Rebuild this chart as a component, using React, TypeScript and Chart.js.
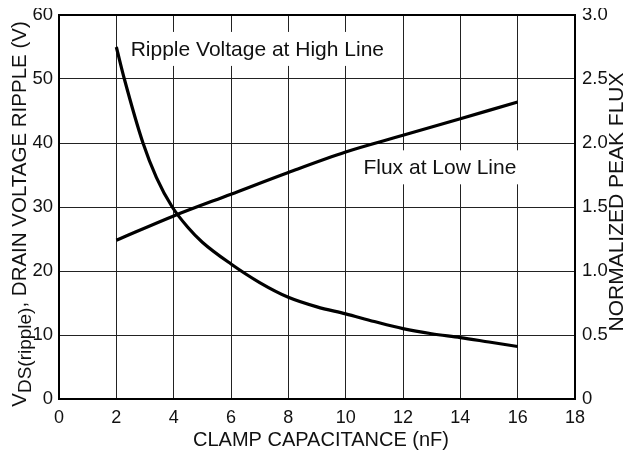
import React, { useEffect, useRef } from "react";
import { Chart, registerables } from "chart.js";

Chart.register(...registerables);

// ---- data ----
const xTickValues = [0, 2, 4, 6, 8, 10, 12, 14, 16, 18];
const leftTickValues = [0, 10, 20, 30, 40, 50, 60];
const rightTickValues = [0, 0.5, 1.0, 1.5, 2.0, 2.5, 3.0];

const rippleX = [2, 2.28, 2.93, 3.4, 3.95, 4.5, 5, 6, 7, 8, 9, 10, 11, 12, 13, 14, 15, 16];
const rippleV = [55, 50, 40, 34.6, 30, 26.8, 24.5, 21.1, 18.2, 15.9, 14.4, 13.3, 12.1, 11.0, 10.2, 9.6, 8.9, 8.2];

const fluxX = [2, 4, 6, 8, 10, 12, 14, 16];
const fluxV = [1.24, 1.43, 1.6, 1.77, 1.93, 2.06, 2.19, 2.32];

const xTitle = "CLAMP CAPACITANCE (nF)";
const leftTitleMain = "V";
const leftTitleSub = "DS(ripple)";
const leftTitleRest = ", DRAIN VOLTAGE RIPPLE (V)";
const rightTitle = "NORMALIZED PEAK FLUX";
const rippleLabel = "Ripple Voltage at High Line";
const fluxLabel = "Flux at Low Line";

const FONT = "'Liberation Sans', Arial, Helvetica, sans-serif";

const decorPlugin = {
  id: "decor",
  beforeDatasetsDraw(chart: any) {
    const { ctx, scales } = chart;
    const x = scales.x;
    const y = scales.y;
    ctx.save();
    ctx.font = `21px ${FONT}`;
    ctx.textBaseline = "middle";
    ctx.textAlign = "left";
    const labels = [
      { text: rippleLabel, px: x.getPixelForValue(2.5), py: y.getPixelForValue(54.7) },
      { text: fluxLabel, px: x.getPixelForValue(10.62), py: y.getPixelForValue(36.2) },
    ];
    for (const l of labels) {
      const w = ctx.measureText(l.text).width;
      ctx.fillStyle = "#fff";
      ctx.fillRect(l.px - 7, l.py - 17, w + 12, 34);
      ctx.fillStyle = "#111";
      ctx.fillText(l.text, l.px, l.py + 1);
    }
    ctx.restore();
  },
  afterDraw(chart: any) {
    const { ctx, chartArea } = chart;
    ctx.save();
    // frame
    ctx.strokeStyle = "#000";
    ctx.lineWidth = 2;
    ctx.strokeRect(chartArea.left, chartArea.top, chartArea.right - chartArea.left, chartArea.bottom - chartArea.top);

    ctx.fillStyle = "#111";
    // x title
    ctx.font = `20px ${FONT}`;
    ctx.textAlign = "center";
    ctx.textBaseline = "middle";
    ctx.fillText(xTitle, (chartArea.left + chartArea.right) / 2 + 4, 432);

    // left title (rotated) with subscript
    const mainF = `20.5px ${FONT}`;
    const subF = `19px ${FONT}`;
    ctx.font = mainF;
    const wV = ctx.measureText(leftTitleMain).width;
    const wR = ctx.measureText(leftTitleRest).width;
    ctx.font = subF;
    const wS = ctx.measureText(leftTitleSub).width;
    const total = wV + wS + wR;
    ctx.save();
    ctx.translate(10.5, (chartArea.top + chartArea.bottom) / 2 + 7);
    ctx.rotate(-Math.PI / 2);
    ctx.textAlign = "left";
    ctx.textBaseline = "alphabetic";
    let sx = -total / 2;
    ctx.font = mainF;
    ctx.fillText(leftTitleMain, sx, 7);
    sx += wV;
    ctx.font = subF;
    ctx.fillText(leftTitleSub, sx, 12);
    sx += wS;
    ctx.font = mainF;
    ctx.fillText(leftTitleRest, sx, 7);
    ctx.restore();

    // right title
    ctx.save();
    ctx.translate(609, 194);
    ctx.rotate(-Math.PI / 2);
    ctx.font = `21px ${FONT}`;
    ctx.textAlign = "center";
    ctx.textBaseline = "middle";
    ctx.fillText(rightTitle, 0, 0);
    ctx.restore();

    ctx.restore();
  },
};

export default function App() {
  const ref = useRef<HTMLCanvasElement>(null);
  useEffect(() => {
    if (!ref.current) return;
    const chart = new Chart(ref.current, {
      type: "line",
      data: {
        datasets: [
          {
            label: rippleLabel,
            data: rippleX.map((v, i) => ({ x: v, y: rippleV[i] })),
            borderColor: "#000",
            borderWidth: 3.2,
            pointRadius: 0,
            cubicInterpolationMode: "monotone",
            fill: false,
            yAxisID: "y",
          },
          {
            label: fluxLabel,
            data: fluxX.map((v, i) => ({ x: v, y: fluxV[i] })),
            borderColor: "#000",
            borderWidth: 3.2,
            pointRadius: 0,
            cubicInterpolationMode: "monotone",
            fill: false,
            yAxisID: "y2",
          },
        ],
      },
      options: {
        responsive: false,
        animation: false,
        layout: { padding: { top: 7, left: 0, right: 0, bottom: 0 } },
        plugins: { legend: { display: false }, tooltip: { enabled: false }, title: { display: false } },
        scales: {
          x: {
            type: "linear",
            min: 0,
            max: 18,
            afterBuildTicks: (s: any) => {
              s.ticks = xTickValues.map((v) => ({ value: v }));
            },
            afterFit: (s: any) => {
              s.height = 53;
              s.paddingLeft = 0;
              s.paddingRight = 0;
            },
            grid: { color: "#222", lineWidth: 1, drawTicks: false },
            border: { display: false },
            ticks: { color: "#111", font: { size: 18, family: FONT }, padding: 8, maxRotation: 0 },
          },
          y: {
            type: "linear",
            position: "left",
            min: 0,
            max: 60,
            afterBuildTicks: (s: any) => {
              s.ticks = leftTickValues.map((v) => ({ value: v }));
            },
            afterFit: (s: any) => {
              s.width = 51;
              s.paddingTop = 0;
              s.paddingBottom = 0;
            },
            grid: { color: "#222", lineWidth: 1, drawTicks: false },
            border: { display: false },
            ticks: { color: "#111", font: { size: 18.5, family: FONT }, padding: 6 },
          },
          y2: {
            type: "linear",
            position: "right",
            min: 0,
            max: 3,
            afterBuildTicks: (s: any) => {
              s.ticks = rightTickValues.map((v) => ({ value: v }));
            },
            afterFit: (s: any) => {
              s.width = 48;
              s.paddingTop = 0;
              s.paddingBottom = 0;
            },
            grid: { display: false, drawTicks: false },
            border: { display: false },
            ticks: {
              color: "#111",
              font: { size: 18.5, family: FONT },
              padding: 7,
              callback: (v: any) => (Number(v) === 0 ? "0" : Number(v).toFixed(1)),
            },
          },
        },
      },
      plugins: [decorPlugin],
    } as any);
    return () => chart.destroy();
  }, []);
  return (
    <div style={{ width: 615, height: 444 }}>
      <canvas ref={ref} width={615} height={444} />
    </div>
  );
}
